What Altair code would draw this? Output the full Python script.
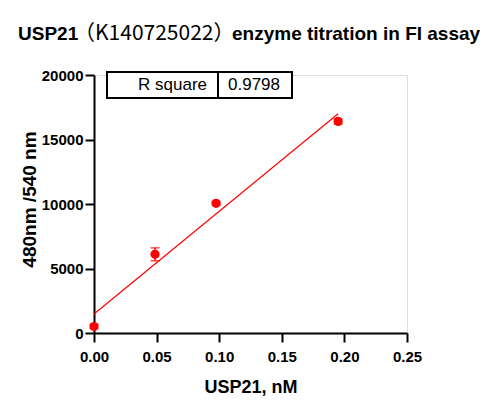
import altair as alt
import pandas as pd

conc = [0.0, 0.04875, 0.0975, 0.195]
signal = [500, 6100, 10050, 16400]
sd = [150, 500, 150, 200]
x_ticks = [0, 0.05, 0.10, 0.15, 0.20, 0.25]
y_ticks = [0, 5000, 10000, 15000, 20000]
title_parts = ["USP21", "（K140725022）", "enzyme titration in FI assay"]
x_title = "USP21, nM"
y_title = "480nm /540 nm"
r2_label = "R square"
r2_value = "0.9798"

df = pd.DataFrame({"x": conc, "y": signal, "sd": sd})
df["lo"] = df["y"] - df["sd"]
df["hi"] = df["y"] + df["sd"]

FONT = "Liberation Sans"
RED = "#ff0000"

xs = alt.Scale(domain=[0, 0.25], nice=False, zero=True)
ys = alt.Scale(domain=[0, 20000], nice=False)

xax = alt.Axis(values=x_ticks, format=".2f", grid=False, domainColor="black", domainWidth=2,
               tickColor="black", tickWidth=2, tickSize=9, labelFont=FONT, labelFontSize=15,
               labelFontWeight="bold", labelColor="black", labelPadding=7, labelFlush=False,
               titleFont=FONT, titleFontSize=18, titleFontWeight="bold",
               titleColor="black", titlePadding=14)
yax = alt.Axis(values=y_ticks, format="d", grid=False, domainColor="black", domainWidth=2,
               tickColor="black", tickWidth=2, tickSize=9, labelFont=FONT, labelFontSize=15,
               labelFontWeight="bold", labelColor="black", labelPadding=2, labelFlush=False,
               titleFont=FONT, titleFontSize=19, titleFontWeight="bold",
               titleColor="black", titleX=-65, titleY=124, titleBaseline="middle", titleAngle=-90,
               titleAlign="center")

base = alt.Chart(df)

fit = base.transform_regression("x", "y", extent=[0, 0.195]).mark_line(color=RED, strokeWidth=1.2).encode(
    x=alt.X("x:Q", scale=xs, axis=xax, title=x_title), y=alt.Y("y:Q", scale=ys, axis=yax, title=y_title))

err = base.mark_errorbar(color=RED, ticks=alt.TickConfig(size=9, thickness=1.5), thickness=1.5).encode(
    x=alt.X("x:Q", scale=xs, title=x_title), y=alt.Y("lo:Q", scale=ys, title=y_title), y2="hi:Q")

pts = base.mark_point(filled=True, color=RED, size=85, opacity=1, shape="circle").encode(
    x=alt.X("x:Q", scale=xs, title=x_title), y=alt.Y("y:Q", scale=ys, title=y_title))

one = alt.Chart(pd.DataFrame({"a": [1]}))
box = one.mark_rect(fill="white", stroke="black", strokeWidth=2).encode(
    x=alt.value(13), x2=alt.value(198), y=alt.value(-3), y2=alt.value(23))
div = one.mark_rule(color="black", strokeWidth=2).encode(
    x=alt.value(124), y=alt.value(-3), y2=alt.value(23))
t1 = one.mark_text(text=r2_label, font=FONT, fontSize=17, align="right", baseline="alphabetic", color="black").encode(
    x=alt.value(113), y=alt.value(15))
t2 = one.mark_text(text=r2_value, font=FONT, fontSize=17, align="left", baseline="alphabetic", color="black").encode(
    x=alt.value(134), y=alt.value(15))

h1 = one.mark_text(text=title_parts[0], font=FONT, fontSize=19, fontWeight="bold", align="left",
                   baseline="alphabetic", color="black").encode(x=alt.value(-76), y=alt.value(-35))
h2 = one.mark_text(text=title_parts[1], font="Noto Sans CJK SC", fontSize=21, align="left",
                   baseline="alphabetic", color="black").encode(x=alt.value(-20), y=alt.value(-35))
h3 = one.mark_text(text=title_parts[2], font=FONT, fontSize=19, fontWeight="bold", align="left",
                   baseline="alphabetic", color="black").encode(x=alt.value(138), y=alt.value(-35))

chart = alt.layer(fit, err, pts, box, div, t1, t2, h1, h2, h3).properties(
    width=313, height=258,
    padding={"left": 86, "top": 67, "right": 84, "bottom": 78},
    autosize=alt.AutoSizeParams(type="none"),
).configure_view(stroke=None).configure(background="white")

chart.save("out.html", embed_options={"renderer": "svg", "actions": False})
